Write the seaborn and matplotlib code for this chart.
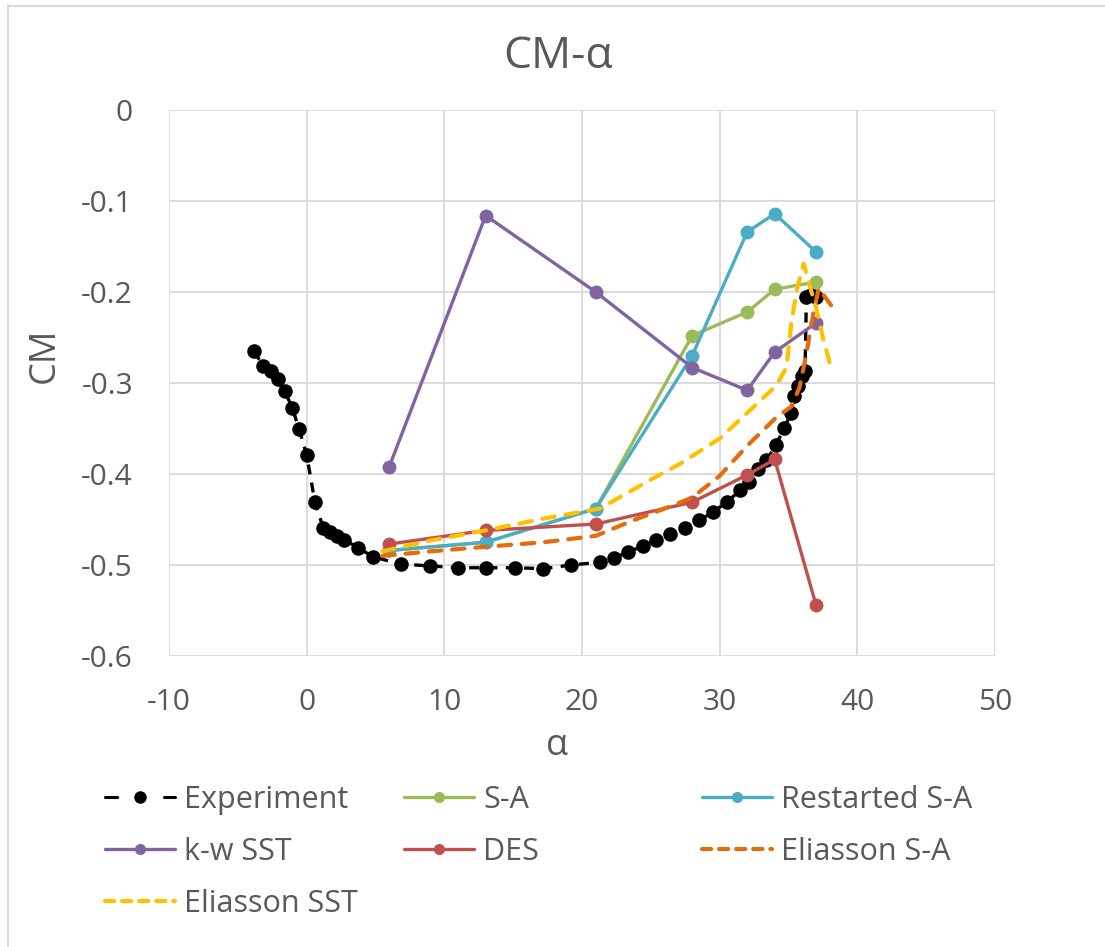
import matplotlib
matplotlib.use("Agg")
import matplotlib.pyplot as plt
import seaborn as sns
import pandas as pd
from matplotlib.lines import Line2D

# --- data -------------------------------------------------------------
exp_alpha = [-3.8, -3.2, -2.6, -2.1, -1.6, -1.05, -0.55, 0.0, 0.6, 1.2, 1.7,
             2.2, 2.7, 3.75, 4.8, 6.85, 8.95, 11.0, 13.05, 15.1, 17.2, 19.2,
             21.3, 22.3, 23.35, 24.4, 25.4, 26.4, 27.5, 28.5, 29.5, 30.5,
             31.5, 32.1, 32.8, 33.4, 34.1, 34.7, 35.2, 35.4, 35.7, 36.0,
             36.2, 36.3, 36.6, 37.0]
exp_cm = [-0.265, -0.281, -0.287, -0.296, -0.309, -0.327, -0.351, -0.379,
          -0.431, -0.459, -0.464, -0.468, -0.472, -0.481, -0.491, -0.499,
          -0.501, -0.503, -0.503, -0.503, -0.504, -0.500, -0.497, -0.492,
          -0.486, -0.479, -0.473, -0.466, -0.459, -0.451, -0.442, -0.431,
          -0.418, -0.409, -0.394, -0.385, -0.368, -0.349, -0.333, -0.314,
          -0.303, -0.292, -0.287, -0.206, -0.203, -0.205]

sim_alpha = [6, 13, 21, 28, 32, 34, 37]
sa_cm = [-0.484, -0.475, -0.438, -0.248, -0.222, -0.197, -0.189]
restarted_sa_cm = [-0.484, -0.475, -0.438, -0.270, -0.134, -0.114, -0.156]
kw_sst_cm = [-0.392, -0.116, -0.200, -0.283, -0.308, -0.266, -0.234]
des_cm = [-0.477, -0.462, -0.455, -0.431, -0.401, -0.384, -0.544]

eli_sa_alpha = [5.5, 9.0, 13.0, 17.2, 21.0, 23.7, 26.0, 28.0, 30.0, 32.0,
                34.1, 35.2, 35.8, 36.3, 36.8, 37.2, 38.4]
eli_sa_cm = [-0.490, -0.485, -0.480, -0.475, -0.468, -0.451, -0.438,
             -0.426, -0.402, -0.369, -0.338, -0.326, -0.305, -0.268,
             -0.224, -0.196, -0.221]

eli_sst_alpha = [5.5, 9.0, 13.0, 17.2, 21.3, 24.9, 27.1, 30.0, 32.2, 34.1,
                 34.85, 35.2, 35.6, 36.1, 36.5, 37.0, 37.5, 38.1]
eli_sst_cm = [-0.485, -0.473, -0.462, -0.449, -0.438, -0.407, -0.389,
              -0.361, -0.330, -0.303, -0.283, -0.235, -0.198, -0.169,
              -0.191, -0.217, -0.250, -0.284]

x_ticks = [-10, 0, 10, 20, 30, 40, 50]
y_ticks = [0, -0.1, -0.2, -0.3, -0.4, -0.5, -0.6]
y_tick_labels = ["0", "-0.1", "-0.2", "-0.3", "-0.4", "-0.5", "-0.6"]

# --- style ------------------------------------------------------------
sns.set_theme(style="white")
plt.rcParams["font.family"] = ["Open Sans", "DejaVu Sans"]
plt.rcParams["axes.unicode_minus"] = False
TEXT = "#595959"
GRID = "#d9d9d9"
DASH = (0, (3.0, 2.6))

W, H = 1105, 947
fig = plt.figure(figsize=(W / 100, H / 100), dpi=100)
ax = fig.add_axes([169 / W, 1 - 656 / H, (995 - 169) / W, (656 - 110) / H])

# chart-area frame (left and top edges visible)
fig.patches.append(plt.Rectangle((7.5 / W, -0.05), 1.2, 1 - 5.5 / H + 0.05,
                                 transform=fig.transFigure, fill=False,
                                 edgecolor=GRID, linewidth=1.5))

series = [
    ("S-A", sim_alpha, sa_cm, "#9BBB59"),
    ("Restarted S-A", sim_alpha, restarted_sa_cm, "#4BACC6"),
    ("k-w SST", sim_alpha, kw_sst_cm, "#8064A2"),
    ("DES", sim_alpha, des_cm, "#C0504D"),
]

exp_df = pd.DataFrame({"alpha": exp_alpha, "cm": exp_cm})
sns.lineplot(data=exp_df, x="alpha", y="cm", sort=False, estimator=None, ax=ax,
             color="black", linewidth=2.4, linestyle=(0, (3, 2.5)), marker="o",
             markersize=10.5, markeredgewidth=0, zorder=3)

for name, xs, ys, col in series:
    df = pd.DataFrame({"alpha": xs, "cm": ys})
    sns.lineplot(data=df, x="alpha", y="cm", sort=False, estimator=None, ax=ax,
                 color=col, linewidth=2.4, marker="o", markersize=10,
                 markeredgewidth=0, zorder=4)

for xs, ys, col in [(eli_sa_alpha, eli_sa_cm, "#E46C0A"),
                    (eli_sst_alpha, eli_sst_cm, "#FFC000")]:
    df = pd.DataFrame({"alpha": xs, "cm": ys})
    sns.lineplot(data=df, x="alpha", y="cm", sort=False, estimator=None, ax=ax,
                 color=col, linewidth=3.0, linestyle=DASH,
                 dash_capstyle="round", zorder=5)

ax.set_xlim(-10, 50)
ax.set_ylim(-0.6, 0)
ax.set_xticks(x_ticks)
ax.set_yticks(y_ticks)
ax.set_yticklabels(y_tick_labels)
ax.grid(True, color=GRID, linewidth=1.3)
ax.set_axisbelow(True)
for s in ax.spines.values():
    s.set_visible(False)
ax.tick_params(axis="both", length=0, labelsize=21.5, colors=TEXT)
ax.tick_params(axis="y", pad=26)
ax.tick_params(axis="x", pad=23)

ax.set_xlabel("α", fontsize=26, color=TEXT)
ax.xaxis.set_label_coords((557 - 169) / 826, -(728 - 656) / 546)
ax.set_ylabel("CM", fontsize=26, color=TEXT)
ax.yaxis.set_label_coords(-(152 - 46) / 826, (656 - 355) / 546)
fig.text(558 / W, 1 - 57 / H, "CM-α", fontsize=32, color=TEXT,
         ha="center", va="center")

# legend, three columns
def handle(col, ls, marker, ms, lw=2.4):
    return Line2D([], [], color=col, linestyle=ls, linewidth=lw, marker=marker,
                  markersize=ms, markeredgewidth=0, dash_capstyle="round")

columns = [
    ([handle("black", (0, (4, 15.3)), "o", 9, 2.2), handle("#8064A2", "-", "o", 8),
      handle("#FFC000", (0, (2.2, 1.9)), None, 0, 3.0)],
     ["Experiment", "k-w SST", "Eliasson SST"], 105),
    ([handle("#9BBB59", "-", "o", 8), handle("#C0504D", "-", "o", 8)],
     ["S-A", "DES"], 404),
    ([handle("#4BACC6", "-", "o", 8), handle("#E46C0A", (0, (2.2, 1.9)), None, 0, 3.0)],
     ["Restarted S-A", "Eliasson S-A"], 702),
]
for hs, labels, xpx in columns:
    fig.legend(hs, labels, loc="upper left", bbox_to_anchor=(xpx / W, 1 - 785 / H),
               frameon=False, fontsize=22, labelcolor=TEXT, handlelength=2.3,
               handletextpad=0.3, labelspacing=0.72, borderaxespad=0, borderpad=0)

fig.savefig("out.png", dpi=100)
